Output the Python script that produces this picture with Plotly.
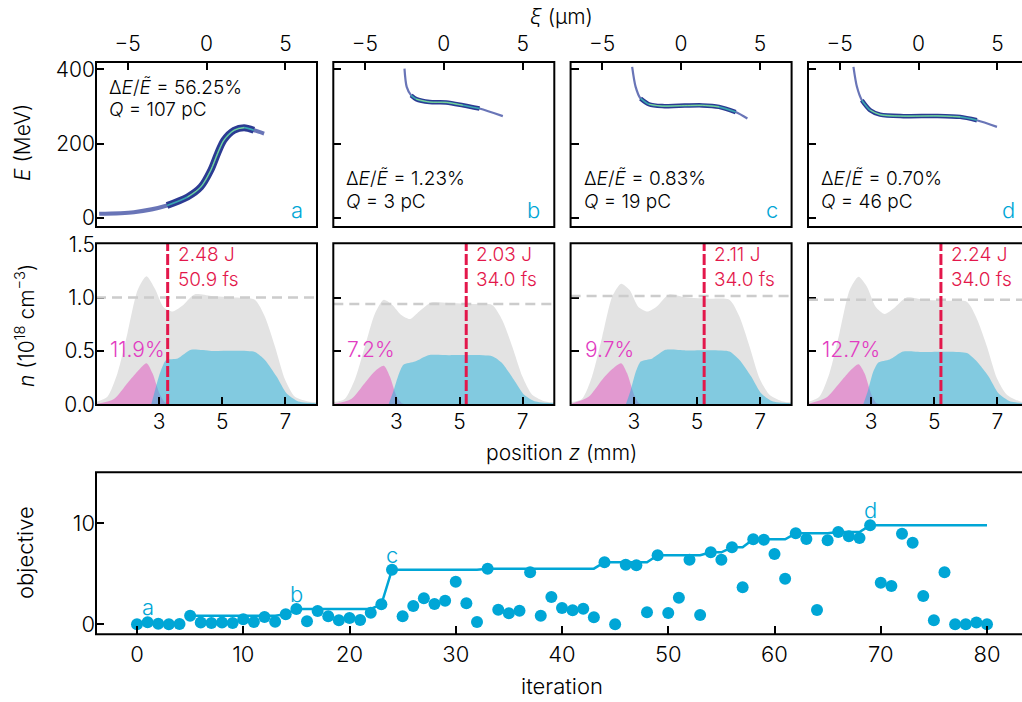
import plotly.graph_objects as go

W, H = 1022, 702
FONT = "Inter"
WEIGHT = 300
CYAN = "#00a6d6"
RED = "#e3174b"
MAGENTA = "#e23cc2"
GRAY_FILL = "#e3e3e3"

# ---------------- top row: longitudinal phase space (centroid of E vs xi) ----------------
panel_letters = ["a", "b", "c", "d"]
spread_text = ["56.25%", "1.23%", "0.83%", "0.70%"]
charge_text = ["107", "3", "19", "46"]

xi_a = [-6.8, -4.6, -2.5, -1.2, -0.36, 0.27, 0.7, 1.1, 1.75, 2.38, 3.0, 3.65]
E_a = [10.8, 15, 33, 56, 83, 128, 173, 209, 236, 243, 236, 227]
xi_b = [-2.49, -2.35, -2.07, -1.75, -0.9, 0.15, 1.2, 2.26, 3.74]
E_b = [402, 353, 330, 320, 312, 311, 303.5, 294.6, 274]
xi_c = [-3.1, -2.88, -2.57, -2.04, -1.2, -0.13, 1.35, 2.4, 3.46, 4.2]
E_c = [407, 353, 321.6, 306, 301, 302, 303, 299, 285, 267.6]
xi_d = [-4.12, -3.9, -3.59, -3.06, -2.43, -0.95, 1.17, 2.64, 3.7, 4.97]
E_d = [407, 353, 317, 290, 278, 274, 274.6, 272, 263, 245]
beams = [(xi_a, E_a), (xi_b, E_b), (xi_c, E_c), (xi_d, E_d)]

# ---------------- middle row: density profiles along z ----------------
z_gas = [1.0, 1.36, 1.68, 2.0, 2.32, 2.6, 2.87, 3.14, 3.43, 3.72, 4.12, 4.65, 5.4,
         6.03, 6.35, 6.67, 6.99, 7.3, 7.73, 8.0]
n_gas = [
    [0.02, 0.07, 0.29, 0.67, 1.07, 1.20, 1.08, 0.91, 0.87, 0.92, 1.03, 1.015, 1.0,
     0.98, 0.82, 0.54, 0.23, 0.07, 0.025, 0.02],
    [0.02, 0.05, 0.23, 0.54, 0.85, 0.98, 0.93, 0.84, 0.80, 0.87, 0.956, 0.95, 0.94,
     0.93, 0.79, 0.54, 0.26, 0.09, 0.025, 0.02],
    [0.02, 0.05, 0.26, 0.63, 1.01, 1.13, 1.07, 0.915, 0.87, 0.915, 1.03, 1.0, 0.99,
     0.98, 0.82, 0.54, 0.24, 0.09, 0.025, 0.02],
    [0.02, 0.07, 0.29, 0.67, 1.07, 1.195, 1.10, 0.915, 0.846, 0.90, 1.0, 0.98, 0.97,
     0.96, 0.80, 0.54, 0.24, 0.09, 0.025, 0.02],
]
z_dopant = [1.0, 1.57, 2.0, 2.32, 2.6, 2.79, 3.01, 3.17, 3.3]
n_dopant = [
    [0.003, 0.05, 0.2, 0.31, 0.385, 0.29, 0.10, 0.02, 0.0],
    [0.003, 0.05, 0.2, 0.31, 0.36, 0.26, 0.07, 0.01, 0.0],
    [0.003, 0.07, 0.23, 0.33, 0.385, 0.29, 0.09, 0.01, 0.0],
    [0.003, 0.06, 0.2, 0.31, 0.375, 0.29, 0.09, 0.01, 0.0],
]
z_plateau = [2.75, 2.9, 3.06, 3.22, 3.59, 4.01, 4.65, 6.03, 6.35, 6.72, 7.04, 7.41, 7.94, 8.0]
n_plateau = [
    [0.0, 0.165, 0.32, 0.415, 0.43, 0.51, 0.50, 0.49, 0.415, 0.26, 0.10, 0.025, 0.01, 0.01],
    [0.0, 0.12, 0.27, 0.37, 0.40, 0.46, 0.46, 0.45, 0.385, 0.23, 0.09, 0.025, 0.01, 0.01],
    [0.0, 0.13, 0.30, 0.40, 0.43, 0.51, 0.505, 0.495, 0.415, 0.26, 0.10, 0.025, 0.01, 0.01],
    [0.0, 0.13, 0.30, 0.39, 0.42, 0.495, 0.49, 0.48, 0.40, 0.26, 0.10, 0.025, 0.01, 0.01],
]
n_reference = [1.0, 0.94, 1.015, 0.98]
focus_z = [3.27, 5.21, 5.23, 5.21]
laser_energy = ["2.48", "2.03", "2.11", "2.24"]
laser_duration = ["50.9", "34.0", "34.0", "34.0"]
dopant_fraction = ["11.9%", "7.2%", "9.7%", "12.7%"]

# ---------------- bottom row: optimisation history ----------------
iteration = list(range(81))
objective = [0.0, 0.2, 0.05, 0.0, 0.03, 0.85, 0.17, 0.13, 0.17, 0.13,
             0.49, 0.23, 0.72, 0.26, 0.99, 1.52, 0.3, 1.32, 0.79, 0.4,
             0.63, 0.43, 1.15, 1.98, 5.41, 0.79, 1.81, 2.57, 2.01, 2.34,
             4.22, 2.08, 0.23, 5.51, 1.45, 1.09, 1.35, 5.15, 0.85, 2.7,
             1.61, 1.38, 1.55, 0.69, 6.14, 0.0, 5.9, 5.84, 1.19, 6.83,
             1.12, 2.64, 6.4, 0.92, 7.13, 6.4, 7.62, 3.66, 8.41, 8.38,
             6.96, 4.52, 9.01, 8.45, 1.42, 8.32, 9.14, 8.71, 8.54, 9.8,
             4.12, 3.79, 8.97, 8.08, 2.8, 0.4, 5.15, 0.0, 0.0, 0.17, 0.0]
best_iteration = list(range(5, 81))
best_objective = ([0.85] * 9 + [0.99] + [1.52] * 8 + [1.98] + [5.41] * 9 + [5.51] * 11
                  + [6.14] * 5 + [6.83] * 5 + [7.13] * 2 + [7.62] * 2 + [8.41] * 4
                  + [9.01] * 4 + [9.14] * 3 + [9.8] * 12)
marked_iterations = [1, 15, 24, 69]

# ---------------- geometry (pixels) ----------------
col_left = [96, 333.3, 570.6, 808]
col_w = 221
row_top = {"top": (62, 227), "mid": (243.3, 405), "bot": (472.3, 634.3)}


def xdom(left, width):
    return [left / W, min(left + width, W) / W]


def ydom(top, bottom):
    return [(H - bottom) / H, (H - top) / H]


def frac_x(px):
    return px / W


def frac_y(py):
    return (H - py) / H


def fnt(size, color="black"):
    return dict(family=FONT, size=size, color=color, weight=WEIGHT)


fig = go.Figure()
layout = dict(
    width=W, height=H, margin=dict(l=0, r=0, t=0, b=0, pad=0, autoexpand=False),
    paper_bgcolor="white", plot_bgcolor="white", showlegend=False,
    font=fnt(20),
)

common_axis = dict(showgrid=False, zeroline=False, showline=False, ticks="inside",
                   ticklen=8, tickwidth=2, tickcolor="black", tickfont=fnt(21),
                   automargin=False)

shapes = []
annotations = []

for i in range(4):
    left = col_left[i]
    visible_w = min(col_w, W - left)
    # --- top row axes ---
    ax = 1 + i
    top_range_x = [-7, -7 + 14 * visible_w / col_w]
    layout[f"xaxis{ax}"] = dict(common_axis, domain=xdom(left, col_w), range=top_range_x,
                                side="top", tickvals=[-5, 0, 5], anchor=f"y{ax}",
                                ticklabelstandoff=6)
    layout[f"yaxis{ax}"] = dict(common_axis, domain=ydom(*row_top["top"]), range=[-25, 420],
                                tickvals=[0, 200, 400], showticklabels=(i == 0),
                                anchor=f"x{ax}")
    xi, E = beams[i]
    spline = dict(shape="spline", smoothing=0.8)
    # thin envelope over the whole bunch, denser core, bright centre
    fig.add_trace(go.Scatter(x=xi, y=E, xaxis=f"x{ax}", yaxis=f"y{ax}", mode="lines",
                             line=dict(color="#4453a6", width=4 if i == 0 else 2.2, **spline),
                             opacity=0.8, hoverinfo="skip"))
    core = slice(2, len(xi) - 1)
    fig.add_trace(go.Scatter(x=xi[core], y=E[core], xaxis=f"x{ax}", yaxis=f"y{ax}", mode="lines",
                             line=dict(color="#2c3a92", width=7 if i == 0 else 4.5, **spline),
                             hoverinfo="skip"))
    fig.add_trace(go.Scatter(x=xi[core], y=E[core], xaxis=f"x{ax}", yaxis=f"y{ax}", mode="lines",
                             line=dict(color="#3aa6b0", width=1.6, **spline), hoverinfo="skip"))
    fig.add_trace(go.Scatter(x=xi[3:-2], y=E[3:-2], xaxis=f"x{ax}", yaxis=f"y{ax}", mode="lines",
                             line=dict(color="#9be38a", width=0.8, **spline), hoverinfo="skip"))

    tx = frac_x(left + 11)
    if i == 0:
        ty1, ty2 = 87, 110
    else:
        ty1, ty2 = 178, 201
    annotations.append(dict(xref="paper", yref="paper", x=tx, y=frac_y(ty1), xanchor="left",
                            yanchor="middle", showarrow=False,
                            text=f"Δ<i>E</i>/<i>Ẽ</i> = {spread_text[i]}", font=fnt(19)))
    annotations.append(dict(xref="paper", yref="paper", x=tx, y=frac_y(ty2), xanchor="left",
                            yanchor="middle", showarrow=False,
                            text=f"<i>Q</i> = {charge_text[i]} pC", font=fnt(19)))
    annotations.append(dict(xref="paper", yref="paper", x=frac_x(left + col_w - 12),
                            y=frac_y(210), xanchor="right", yanchor="middle", showarrow=False,
                            text=panel_letters[i], font=fnt(22, CYAN)))

    # --- middle row axes ---
    am = 5 + i
    mid_range_x = [1, 1 + 7 * visible_w / col_w]
    layout[f"xaxis{am}"] = dict(common_axis, domain=xdom(left, col_w), range=mid_range_x,
                                tickvals=[3, 5, 7], anchor=f"y{am}", ticklabelstandoff=2)
    layout[f"yaxis{am}"] = dict(common_axis, domain=ydom(*row_top["mid"]), range=[-0.007, 1.509],
                                tickvals=[0, 0.5, 1.0, 1.5], tickformat=".1f",
                                showticklabels=(i == 0), anchor=f"x{am}")
    fig.add_trace(go.Scatter(x=z_gas, y=n_gas[i], xaxis=f"x{am}", yaxis=f"y{am}", mode="lines",
                             fill="tozeroy", fillcolor=GRAY_FILL, line=dict(width=0, color=GRAY_FILL,
                             shape="spline", smoothing=0.7), hoverinfo="skip"))
    fig.add_trace(go.Scatter(x=z_dopant, y=n_dopant[i], xaxis=f"x{am}", yaxis=f"y{am}",
                             mode="lines", fill="tozeroy", fillcolor="rgba(226,80,190,0.5)",
                             line=dict(width=0, color="rgba(0,0,0,0)", shape="spline",
                                       smoothing=0.7), hoverinfo="skip"))
    fig.add_trace(go.Scatter(x=z_plateau, y=n_plateau[i], xaxis=f"x{am}", yaxis=f"y{am}",
                             mode="lines", fill="tozeroy", fillcolor="rgba(40,178,220,0.52)",
                             line=dict(width=0, color="rgba(0,0,0,0)", shape="spline",
                                       smoothing=0.6), hoverinfo="skip"))
    shapes.append(dict(type="line", xref=f"x{am} domain", yref=f"y{am}", x0=0, x1=1,
                       y0=n_reference[i], y1=n_reference[i], layer="above",
                       line=dict(color="#cccccc", width=2.5, dash="10px,6px")))
    shapes.append(dict(type="line", xref=f"x{am}", yref=f"y{am} domain", x0=focus_z[i],
                       x1=focus_z[i], y0=0, y1=1, layer="above",
                       line=dict(color=RED, width=3, dash="11px,3px")))
    annotations.append(dict(xref=f"x{am}", yref=f"y{am}", x=focus_z[i], y=1.283, xanchor="left",
                            xshift=8, yanchor="middle", showarrow=False, align="left",
                            text=f"{laser_energy[i]} J<br>{laser_duration[i]} fs",
                            font=fnt(19, RED)))
    annotations.append(dict(xref=f"x{am}", yref=f"y{am}", x=1.38, y=0.51, xanchor="left",
                            yanchor="middle", showarrow=False, text=dopant_fraction[i],
                            font=fnt(21, MAGENTA)))

    # frames
    for key in ("top", "mid"):
        t, b = row_top[key]
        shapes.append(dict(type="rect", xref="paper", yref="paper", x0=frac_x(left),
                           x1=frac_x(left + col_w), y0=frac_y(b), y1=frac_y(t), layer="above",
                           line=dict(color="black", width=2), fillcolor="rgba(0,0,0,0)"))

# --- bottom row ---
bot_scale = 850 / 80.0
bot_left = 96
bot_range = [(bot_left - 137) / bot_scale, (W - 137) / bot_scale]
layout["xaxis9"] = dict(common_axis, domain=[bot_left / W, 1.0], range=bot_range,
                        tickvals=list(range(0, 81, 10)), anchor="y9",
                        tickfont=fnt(22), ticklabelstandoff=5)
layout["yaxis9"] = dict(common_axis, domain=ydom(*row_top["bot"]), range=[-0.99, 15.05],
                        tickvals=[0, 10], anchor="x9", tickfont=fnt(22))
fig.add_trace(go.Scatter(x=best_iteration, y=best_objective, xaxis="x9", yaxis="y9",
                         mode="lines", line=dict(color=CYAN, width=2.5), hoverinfo="skip"))
fig.add_trace(go.Scatter(x=iteration, y=objective, xaxis="x9", yaxis="y9", mode="markers",
                         marker=dict(color=CYAN, size=12, line=dict(width=0)), hoverinfo="skip"))
for letter, it in zip(panel_letters, marked_iterations):
    annotations.append(dict(xref="x9", yref="y9", x=it, y=objective[it], yshift=15,
                            xanchor="center", yanchor="middle", showarrow=False, text=letter,
                            font=fnt(22, CYAN)))
t, b = row_top["bot"]
shapes.append(dict(type="rect", xref="paper", yref="paper", x0=frac_x(bot_left),
                   x1=frac_x(bot_left + 933), y0=frac_y(b), y1=frac_y(t), layer="above",
                   line=dict(color="black", width=2), fillcolor="rgba(0,0,0,0)"))

# axis titles
annotations += [
    dict(xref="paper", yref="paper", x=frac_x(561), y=frac_y(17), text="<i>ξ</i> (µm)",
         showarrow=False, xanchor="center", yanchor="middle", font=fnt(21)),
    dict(xref="paper", yref="paper", x=frac_x(561), y=frac_y(453), text="position <i>z</i> (mm)",
         showarrow=False, xanchor="center", yanchor="middle", font=fnt(21)),
    dict(xref="paper", yref="paper", x=frac_x(562), y=frac_y(686), text="iteration",
         showarrow=False, xanchor="center", yanchor="middle", font=fnt(22)),
    dict(xref="paper", yref="paper", x=frac_x(22), y=frac_y(143), text="<i>E</i> (MeV)",
         showarrow=False, textangle=-90, xanchor="center", yanchor="middle", font=fnt(21)),
    dict(xref="paper", yref="paper", x=frac_x(25), y=frac_y(326),
         text="<i>n</i> (10<sup>18</sup> cm<sup>−3</sup>)",
         showarrow=False, textangle=-90, xanchor="center", yanchor="middle", font=fnt(21)),
    dict(xref="paper", yref="paper", x=frac_x(25), y=frac_y(553), text="objective",
         showarrow=False, textangle=-90, xanchor="center", yanchor="middle", font=fnt(22)),
]

layout["shapes"] = shapes
layout["annotations"] = annotations
fig.update_layout(**layout)
fig.write_html("out.html")
